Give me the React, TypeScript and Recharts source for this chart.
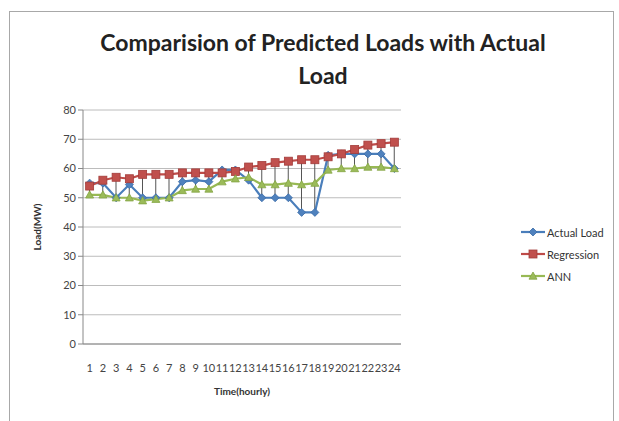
import React from "react";
import {
  ComposedChart,
  Line,
  Bar,
  XAxis,
  YAxis,
  CartesianGrid,
  Legend
} from "recharts";

const hours = [
  "1", "2", "3", "4", "5", "6", "7", "8", "9", "10", "11", "12",
  "13", "14", "15", "16", "17", "18", "19", "20", "21", "22", "23", "24"
];

const actualLoad = [
  55, 55, 50, 54.5, 50, 50, 50, 55.5, 56, 55.5, 59.5, 59.5,
  56, 50, 50, 50, 45, 45, 64.5, 65, 65, 65, 65, 60
];

const regression = [
  54, 56, 57, 56.5, 58, 58, 58, 58.5, 58.5, 58.5, 58.5, 59,
  60.5, 61, 62, 62.5, 63, 63, 64, 65, 66.5, 68, 68.5, 69
];

const ann = [
  51, 51, 50, 50, 49, 49.5, 50, 52.5, 53, 53, 55.5, 56.5,
  57, 54.5, 54.5, 55, 54.5, 55, 59.5, 60, 60, 60.5, 60.5, 60
];

const yTicks = [0, 10, 20, 30, 40, 50, 60, 70, 80];

const seriesOrder = ["actual", "regression", "ann"];

const data = hours.map((hour, i) => {
  const vals = [actualLoad[i], regression[i], ann[i]];
  return {
    hour,
    actual: actualLoad[i],
    regression: regression[i],
    ann: ann[i],
    hiLo: [Math.min(...vals), Math.max(...vals)]
  };
});

const font = "Lato, 'Open Sans', sans-serif";

const colors = {
  actual: { line: "#4a7ebb", fill: "#4f81bd", stroke: "#3a6ca8" },
  regression: { line: "#be4b48", fill: "#c0504d", stroke: "#a33c3a" },
  ann: { line: "#98b954", fill: "#9bbb59", stroke: "#84a544" }
};

function Diamond({ cx, cy, fill, stroke }: any) {
  if (cx == null || cy == null) return null;
  const r = 4;
  return (
    <path
      d={`M${cx},${cy - r}L${cx + r},${cy}L${cx},${cy + r}L${cx - r},${cy}Z`}
      fill={fill}
      stroke={stroke}
      strokeWidth={0.8}
    />
  );
}

function Square({ cx, cy, fill, stroke }: any) {
  if (cx == null || cy == null) return null;
  const r = 4;
  return (
    <rect
      x={cx - r}
      y={cy - r}
      width={r * 2}
      height={r * 2}
      fill={fill}
      stroke={stroke}
      strokeWidth={0.8}
    />
  );
}

function Triangle({ cx, cy, fill, stroke }: any) {
  if (cx == null || cy == null) return null;
  const r = 4;
  return (
    <path
      d={`M${cx},${cy - r}L${cx + r},${cy + r * 0.8}L${cx - r},${cy + r * 0.8}Z`}
      fill={fill}
      stroke={stroke}
      strokeWidth={0.8}
    />
  );
}

const markerFor: Record<string, any> = {
  actual: Diamond,
  regression: Square,
  ann: Triangle
};

function LegendContent({ payload }: any) {
  const items = (payload || [])
    .filter((p: any) => p.type !== "none")
    .sort(
      (a: any, b: any) =>
        seriesOrder.indexOf(a.dataKey) - seriesOrder.indexOf(b.dataKey)
    );
  return (
    <div style={{ fontFamily: font, fontSize: 11, color: "#333" }}>
      {items.map((item: any) => {
        const key = item.dataKey as keyof typeof colors;
        const c = colors[key];
        const Marker = markerFor[key];
        return (
          <div
            key={key}
            style={{ display: "flex", alignItems: "center", height: 22 }}
          >
            <svg width={24} height={10} style={{ marginRight: 2 }}>
              <line x1={0} y1={5} x2={24} y2={5} stroke={c.line} strokeWidth={2.2} />
              <Marker cx={12} cy={5} fill={c.fill} stroke={c.stroke} />
            </svg>
            <span>{item.value}</span>
          </div>
        );
      })}
    </div>
  );
}

export default function App() {
  return (
    <div
      style={{
        position: "absolute",
        left: 0,
        top: 0,
        width: 619,
        height: 421,
        background: "#fff",
        overflow: "hidden"
      }}
    >
      <div
        style={{
          position: "absolute",
          left: 9,
          top: 11,
          width: 603,
          height: 430,
          border: "1px solid #a8a8a8"
        }}
      />
      <div
        style={{
          position: "absolute",
          left: 73,
          width: 500,
          top: 26,
          textAlign: "center",
          fontFamily: font,
          fontWeight: 700,
          fontSize: 23,
          lineHeight: "33px",
          color: "#222"
        }}
      >
        Comparision of Predicted Loads with Actual
        <br />
        Load
      </div>
      <ComposedChart
        width={619}
        height={421}
        data={data}
        margin={{ top: 110, right: 118, left: 43, bottom: 47 }}
        style={{ position: "absolute", left: 0, top: 0 }}
      >
        <CartesianGrid vertical={false} stroke="#bcbcbc" />
        <XAxis
          dataKey="hour"
          height={30}
          tickLine={false}
          axisLine={{ stroke: "#888" }}
          tick={{ fill: "#444", fontSize: 11, fontFamily: font }}
          tickMargin={14}
          interval={0}
          label={{
            value: "Time(hourly)",
            position: "bottom",
            offset: 14,
            style: { fill: "#333", fontSize: 10, fontWeight: 700, fontFamily: font }
          }}
        />
        <YAxis
          width={40}
          domain={[0, 80]}
          ticks={yTicks}
          interval={0}
          tickSize={5}
          tickLine={{ stroke: "#888" }}
          axisLine={{ stroke: "#888" }}
          tick={{ fill: "#444", fontSize: 11, fontFamily: font }}
          label={{
            value: "Load(MW)",
            angle: -90,
            position: "insideLeft",
            offset: -6,
            style: {
              fill: "#333",
              fontSize: 10,
              fontWeight: 700,
              fontFamily: font,
              textAnchor: "middle"
            }
          }}
        />
        <Legend
          layout="vertical"
          align="right"
          verticalAlign="top"
          content={<LegendContent />}
          wrapperStyle={{ left: 521, top: 221, width: 100 }}
        />
        <Bar
          dataKey="hiLo"
          barSize={1}
          fill="#555"
          legendType="none"
          isAnimationActive={false}
        />
        <Line
          dataKey="actual"
          name="Actual Load"
          stroke={colors.actual.line}
          strokeWidth={2.2}
          dot={<Diamond fill={colors.actual.fill} stroke={colors.actual.stroke} />}
          activeDot={false}
          isAnimationActive={false}
        />
        <Line
          dataKey="regression"
          name="Regression"
          stroke={colors.regression.line}
          strokeWidth={2.2}
          dot={<Square fill={colors.regression.fill} stroke={colors.regression.stroke} />}
          activeDot={false}
          isAnimationActive={false}
        />
        <Line
          dataKey="ann"
          name="ANN"
          stroke={colors.ann.line}
          strokeWidth={2.2}
          dot={<Triangle fill={colors.ann.fill} stroke={colors.ann.stroke} />}
          activeDot={false}
          isAnimationActive={false}
        />
      </ComposedChart>
    </div>
  );
}
